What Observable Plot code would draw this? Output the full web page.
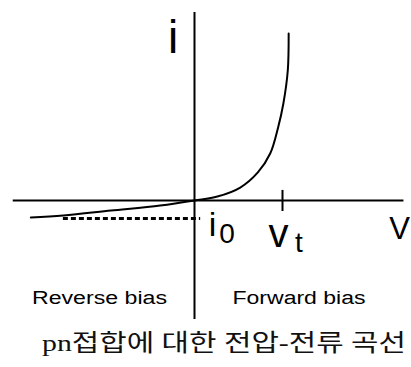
<!DOCTYPE html>
<html>
<head>
<meta charset="utf-8">
<script src="https://cdn.jsdelivr.net/npm/d3@7"></script>
<script src="https://cdn.jsdelivr.net/npm/@observablehq/plot@0.6"></script>
<style>
  html, body { margin: 0; padding: 0; background: #fff; }
  #wrap { position: relative; width: 411px; height: 367px; overflow: hidden; }
  #cap { position: absolute; left: 42px; top: 331px; white-space: nowrap;
         font-family: "Liberation Serif", "Noto Sans CJK KR", serif; font-size: 24px;
         line-height: 24px; color: #111; transform-origin: 0 0; }
</style>
</head>
<body>
<div id="wrap"></div>
<script>
// I–V curve of a pn junction (v in units of the threshold voltage v_t, i in units of |i0|)
const curveV = [-1.86, -1.49, -0.95, -0.39, 0, 0.26, 0.52, 0.72, 0.86, 0.95, 1.01, 1.06, 1.07];
const curveI = [-0.94, -0.83, -0.56, -0.28, 0, 0.22, 0.72, 1.56, 2.61, 4.06, 5.39, 7.22, 9.28];
const vAxisExtent = [-2.06, 2.38];   // horizontal (V) axis
const iAxisExtent = [-6.61, 10.44];  // vertical (i) axis
const vt = 1;                        // threshold voltage tick
const i0 = -1.0;                     // reverse saturation current
const i0DashFrom = -1.49;
const labels = {i: "i", V: "V", i0: ["i", "0"], vt: ["v", "t"], reverse: "Reverse bias", forward: "Forward bias"};
const captionText = "pn접합에 대한 전압-전류 곡선";

const curve = curveV.map((v, k) => ({v, i: curveI[k]}));
const sans = "'Liberation Sans', Arial, sans-serif";

const plot = Plot.plot({
  width: 411,
  height: 325,
  margin: 0,
  x: {domain: [-194 / 88, 217 / 88], axis: null},
  y: {domain: [-125 / 18, 200 / 18], axis: null},
  style: {background: "#fff", fontFamily: sans},
  marks: [
    Plot.ruleY([0], {x1: vAxisExtent[0], x2: vAxisExtent[1], stroke: "#000", strokeWidth: 2}),
    Plot.ruleX([0], {y1: iAxisExtent[0], y2: iAxisExtent[1], stroke: "#000", strokeWidth: 2}),
    Plot.ruleX([vt], {y1: 0.56, y2: -0.61, stroke: "#000", strokeWidth: 2}),
    Plot.ruleY([i0], {x1: i0DashFrom, x2: 0.07, stroke: "#000", strokeWidth: 3, strokeDasharray: "5,3"}),
    Plot.line(curve, {x: "v", y: "i", curve: "catmull-rom", stroke: "#000", strokeWidth: 2}),
    Plot.text([labels.i], {x: -0.244, y: 9.04, text: d => d, fontSize: 46, fill: "#000"}),
    Plot.text([labels.i0[0]], {x: 0.2045, y: -1.34, text: d => d, fontSize: 34, fill: "#000"}),
    Plot.text([labels.i0[1]], {x: 0.369, y: -1.89, text: d => d, fontSize: 28, fill: "#000"}),
    Plot.text([labels.vt[0]], {x: 0.955, y: -1.87, text: d => d, fontSize: 40, fill: "#000"}),
    Plot.text([labels.vt[1]], {x: 1.1875, y: -2.39, text: d => d, fontSize: 28, fill: "#000"}),
    Plot.text([labels.V], {x: 2.33, y: -1.6, text: d => d, fontSize: 31, fill: "#000"}),
    Plot.text([labels.reverse], {x: -1.847, y: -5.45, text: d => d, fontSize: 18, textAnchor: "start", fill: "#000"}),
    Plot.text([labels.forward], {x: 0.432, y: -5.45, text: d => d, fontSize: 18, textAnchor: "start", fill: "#000"})
  ]
});

const wrap = document.getElementById("wrap");
wrap.appendChild(plot);

// widen the two bias labels to the reference's text widths
const textWidths = {"Reverse bias": 135, "Forward bias": 133};
d3.select(plot).selectAll("text").each(function() {
  const w = textWidths[this.textContent];
  if (w) d3.select(this).attr("textLength", w).attr("lengthAdjust", "spacingAndGlyphs");
});

const cap = document.createElement("div");
cap.id = "cap";
cap.textContent = captionText;
wrap.appendChild(cap);
const natural = cap.getBoundingClientRect().width;
cap.style.transform = `scaleX(${364 / natural})`;
</script>
</body>
</html>
